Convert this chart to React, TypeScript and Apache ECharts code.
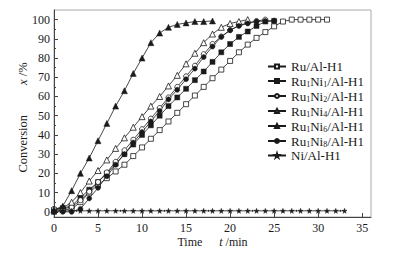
import React, { useEffect, useRef } from "react";
import * as echarts from "echarts";

const FONT = "Liberation Serif";
const INK = "#1a1a1a";

// Time (min) for each series
const tRu = [0,1,2,3,4,5,6,7,8,9,10,11,12,13,14,15,16,17,18,19,20,21,22,23,24,25,26,27,28,29,30,31];
const xRu = [0,1,1.5,5,10,14,17.5,21,24.5,29,33.5,38,42.5,47,51.5,56,60.5,65,69.5,74,78.5,83,87,90.5,93.5,96.5,99,100,100,100,100,100];

const tNi1 = [0,1,2,3,4,5,6,7,8,9,10,11,12,13,14,15,16,17,18,19,20,21,22,23,24,25];
const xNi1 = [1,2,3,7.5,11.5,15.5,20,25,30,35,40,45,50,55,59.5,64,68.5,73,78,83,87.3,91,93.8,96.7,99,99.3];

const tNi2 = [0,1,2,3,4,5,6,7,8,9,10,11,12,13,14,15,16,17,18,19,20,21,22,23,24];
const xNi2 = [1.5,1.5,2.5,6,10.5,15.5,20.5,26,32,37.5,43,48.5,54,59.5,65,70.5,76,82,87.3,91.2,94.5,97,98.3,99.3,100];

const tNi4 = [0,1,2,3,4,5,6,7,8,9,10,11,12,13,14,15,16,17,18,19,20,21,22];
const xNi4 = [1,2,5,10,16,21.5,27,33,38.5,44,49.5,55,60,65.5,71,77,82.5,88,92.5,96,98,99,100];

const tNi6 = [0,1,2,3,4,5,6,7,8,9,10,11,12,13,14,15,16,17,18];
const xNi6 = [1,3,11,20,28,37,46,55,63,72,80,88,93,96,97.5,98.3,99,99,99.3];

const tNi8 = [0,1,2,3,4,5,6,7,8,9,10,11,12,13,14,15,16,17,18,19,20,21,22,23,24,25];
const xNi8 = [0,0,0,1.5,7,12.5,18.5,24.5,30,36,41.5,47,52.5,58.5,63.5,69,74.5,80.5,86,91,94.5,96.7,98,99,99.3,99.5];

const tNi = [0,1,2,3,4,5,6,7,8,9,10,11,12,13,14,15,16,17,18,19,20,21,22,23,24,25,26,27,28,29,30,31,32,33];
const xNi = [0.5,0.5,0.5,0.5,0.5,0.5,0.5,0.5,0.5,0.5,0.5,0.5,0.5,0.5,0.5,0.5,0.5,0.5,0.5,0.5,0.5,0.5,0.5,0.5,0.5,0.5,0.5,0.5,0.5,0.5,0.5,0.5,0.5,0.5];

const seriesNames = ["Ru/Al-H1","Ru1Ni1/Al-H1","Ru1Ni2/Al-H1","Ru1Ni4/Al-H1","Ru1Ni6/Al-H1","Ru1Ni8/Al-H1","Ni/Al-H1"];

const xMajor = [0,5,10,15,20,25,30,35];
const xMinor = [2.5,7.5,12.5,17.5,22.5,27.5,32.5];
const yMajor = [0,10,20,30,40,50,60,70,80,90,100];
const yMinor = [5,15,25,35,45,55,65,75,85,95];

const STAR = "path://M50,0 L61,35 L98,35 L68,57 L79,91 L50,70 L21,91 L32,57 L2,35 L39,35 Z";

const pair = (t: number[], v: number[]) => t.map((x, i) => [x, v[i]]);

export default function App() {
  const ref = useRef<HTMLDivElement>(null);
  useEffect(() => {
    document.body.style.margin = "0";
    const chart = echarts.init(ref.current!, null, { renderer: "svg" });
    const mk = (name: string, data: number[][], symbol: string, open: boolean, size = 5) => ({
      name,
      type: "line",
      data,
      symbol,
      symbolSize: size,
      showAllSymbol: true,
      xAxisIndex: 0,
      yAxisIndex: 0,
      lineStyle: { color: INK, width: 0.8 },
      itemStyle: open
        ? { color: "#fff", borderColor: INK, borderWidth: 0.8 }
        : { color: INK, borderColor: INK, borderWidth: 0.5 },
      emphasis: { disabled: true },
    });
    const baseAxisHidden = {
      axisLine: { show: false },
      axisLabel: { show: false },
      splitLine: { show: false },
    };
    chart.setOption({
      animation: false,
      grid: { left: 54, right: 23, top: 10, bottom: 37, show: true, borderColor: "#aaa", borderWidth: 1 },
      xAxis: [
        {
          type: "value",
          min: 0,
          max: 36,
          axisLine: { show: true, onZero: false, lineStyle: { color: "#444", width: 1 } },
          axisTick: { inside: true, length: 4, customValues: xMajor, lineStyle: { color: "#444" } },
          axisLabel: { customValues: xMajor, margin: 5, fontSize: 12, fontFamily: FONT, color: INK },
          splitLine: { show: false },
          name: "{n|Time}{sp|}{i|t}{n| /min}",
          nameLocation: "middle",
          nameGap: 19,
          nameMoveOverlap: false,
          nameTextStyle: {
            rich: {
              n: { fontSize: 12, fontFamily: FONT, color: INK },
              i: { fontSize: 12, fontFamily: FONT, fontStyle: "italic", color: INK },
              sp: { width: 17 },
            },
          },
        },
        {
          type: "value",
          min: 0,
          max: 36,
          position: "bottom",
          ...baseAxisHidden,
          axisTick: { inside: true, length: 2, customValues: xMinor, lineStyle: { color: "#444" } },
        },
      ],
      yAxis: [
        {
          type: "value",
          min: -2.7,
          max: 105,
          axisLine: { show: true, onZero: false, lineStyle: { color: "#444", width: 1 } },
          axisTick: { inside: true, length: 4, customValues: yMajor, lineStyle: { color: "#444" } },
          axisLabel: { customValues: yMajor, margin: 4, fontSize: 12, fontFamily: FONT, color: INK },
          splitLine: { show: false },
          name: "{n|Conversion}{sp|}{i|x}{n| /%}{e|}",
          nameLocation: "middle",
          nameGap: 25,
          nameMoveOverlap: false,
          nameTextStyle: {
            rich: {
              n: { fontSize: 12.5, fontFamily: FONT, color: INK },
              i: { fontSize: 12.5, fontFamily: FONT, fontStyle: "italic", color: INK },
              sp: { width: 30 },
              e: { width: 8 },
            },
          },
        },
        {
          type: "value",
          min: -2.7,
          max: 105,
          position: "left",
          ...baseAxisHidden,
          axisTick: { inside: true, length: 2, customValues: yMinor, lineStyle: { color: "#444" } },
        },
      ],
      legend: {
        orient: "vertical",
        left: 262,
        top: 55,
        itemWidth: 18,
        itemHeight: 5,
        itemGap: 1,
        textStyle: {
          fontSize: 13,
          fontFamily: FONT,
          color: INK,
          rich: {
            t: { fontSize: 13, fontFamily: FONT, color: INK, lineHeight: 14 },
            s: { fontSize: 8, fontFamily: FONT, color: INK, lineHeight: 14, padding: [6, 0, 0, 0] },
          },
        },
        formatter: (name: string) => {
          const m = name.match(/^Ru(\d)Ni(\d)(.*)$/);
          if (m) return `{t|Ru}{s|${m[1]}}{t|Ni}{s|${m[2]}}{t|${m[3]}}`;
          return `{t|${name}}`;
        },
        data: seriesNames,
      },
      series: [
        mk(seriesNames[0], pair(tRu, xRu), "rect", true),
        mk(seriesNames[1], pair(tNi1, xNi1), "rect", false),
        mk(seriesNames[2], pair(tNi2, xNi2), "circle", true),
        mk(seriesNames[3], pair(tNi4, xNi4), "triangle", true, 6),
        mk(seriesNames[4], pair(tNi6, xNi6), "triangle", false, 6),
        mk(seriesNames[5], pair(tNi8, xNi8), "circle", false),
        mk(seriesNames[6], pair(tNi, xNi), STAR, false, 5),
      ],
    });
    return () => chart.dispose();
  }, []);
  return <div ref={ref} style={{ width: 394, height: 254 }} />;
}
